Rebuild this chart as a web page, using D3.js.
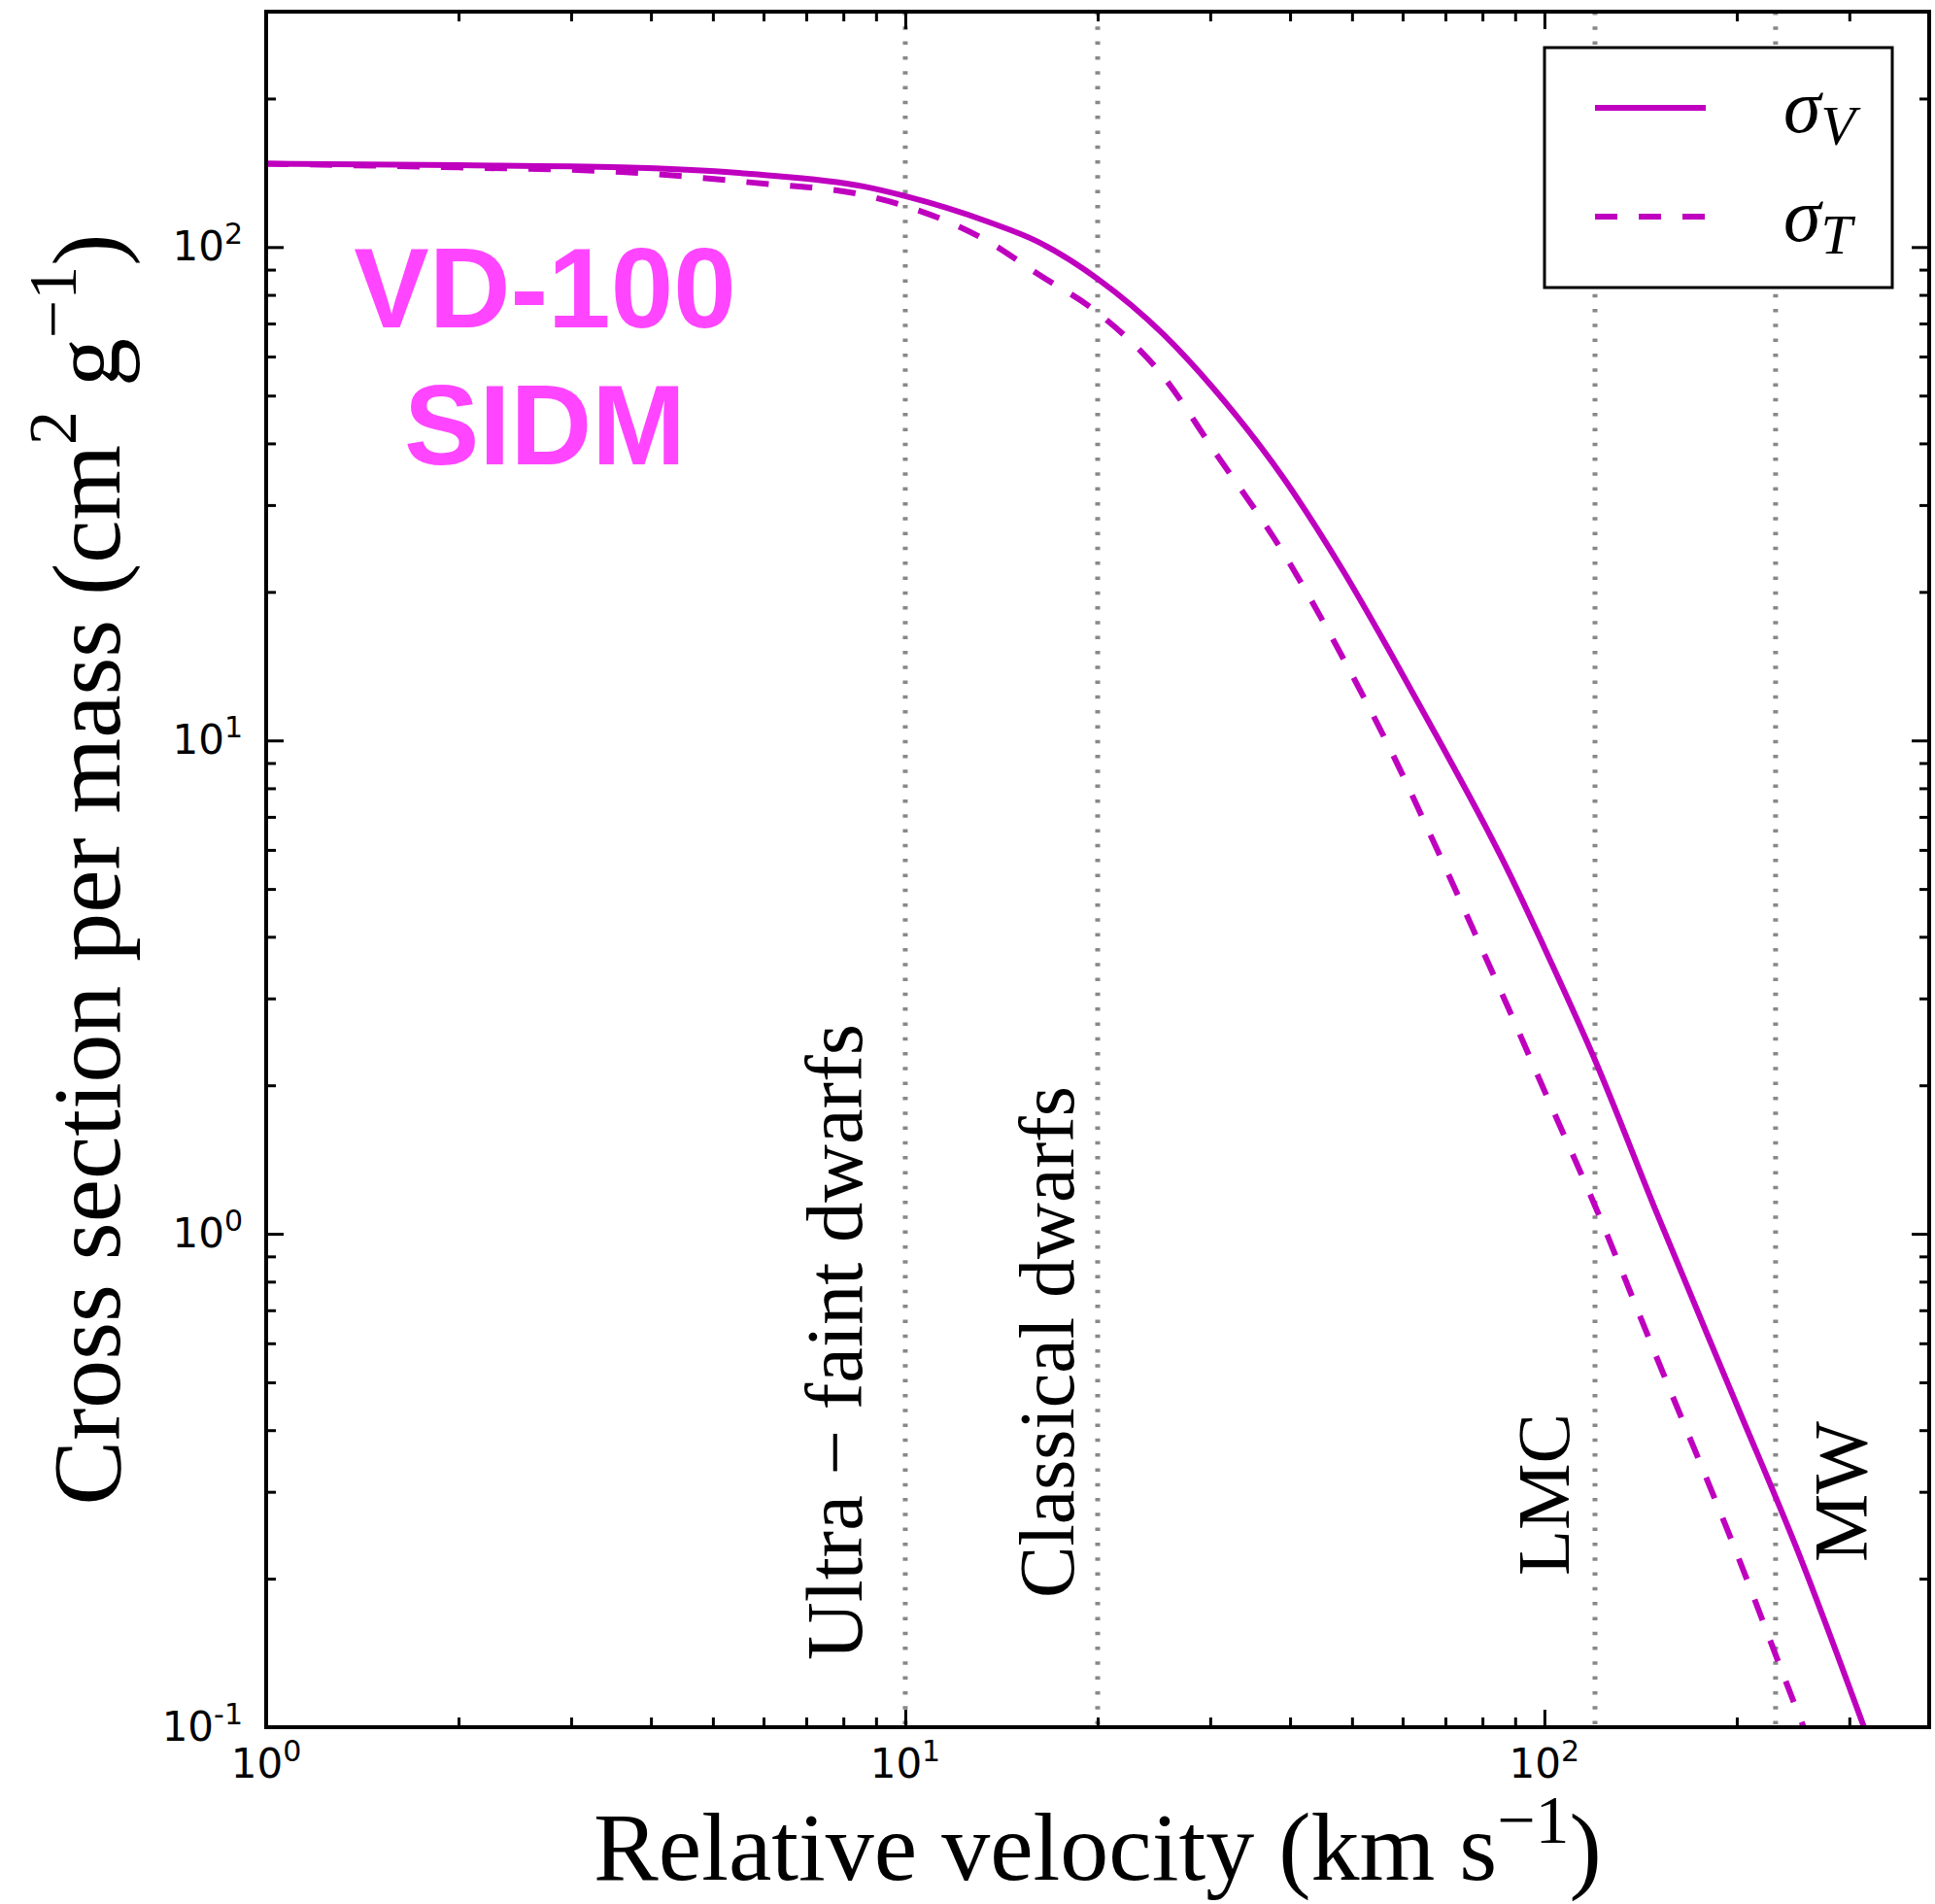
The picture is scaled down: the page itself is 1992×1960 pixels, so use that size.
<!DOCTYPE html>
<html>
<head>
<meta charset="utf-8">
<script src="https://cdn.jsdelivr.net/npm/d3@7"></script>
<style>
  body { margin: 0; background: #fff; }
  svg { display: block; }
</style>
</head>
<body>
<script>
// values
var velocity = [1, 2, 3.6, 5.8, 8.6, 10, 13.5, 16.1, 20, 25.3, 30.4, 39.2, 48.4, 57.6, 68.6, 80.8, 87.7, 100, 120, 150, 200, 250, 320];
var sigmaV = [147.5, 146.5, 145, 140.5, 132.7, 126.8, 112.4, 102.6, 86.2, 66.7, 51.6, 33.8, 22.1, 14.95, 9.94, 6.71, 5.45, 3.8, 2.25, 1.1, 0.45, 0.225, 0.096];
var sigmaT = [147.5, 145, 142, 135, 127.5, 121.1, 102.5, 88.3, 73.6, 54.8, 38.7, 23.8, 14.7, 9.5, 5.85, 3.65, 2.88, 1.95, 1.14, 0.56, 0.225, 0.106, 0.048];

var markerVel = [10, 20, 120, 230];
var markerNames = ['Ultra \u2212 faint dwarfs', 'Classical dwarfs', 'LMC', 'MW'];

var xMajor = [1, 10, 100];
var xMajorExp = ['0', '1', '2'];
var yMajor = [0.1, 1, 10, 100];
var yMajorExp = ['-1', '0', '1', '2'];

var W = 1992, H = 1960;
var pL = 274, pR = 1986, pT = 12, pB = 1778;
var mag = '#bf00bf';

var svg = d3.select('body').append('svg')
  .attr('width', W).attr('height', H);
svg.append('rect').attr('width', W).attr('height', H).attr('fill', '#fff');

var x = d3.scaleLog().domain([1, 400]).range([pL, pR]);
var y = d3.scaleLog().domain([0.1, 300]).range([pB, pT]);

svg.append('clipPath').attr('id', 'plot')
  .append('rect').attr('x', pL).attr('y', pT)
  .attr('width', pR - pL).attr('height', pB - pT);

// dotted markers
svg.append('g').selectAll('line')
  .data(markerVel).enter().append('line')
  .attr('x1', function(d) { return x(d); })
  .attr('x2', function(d) { return x(d); })
  .attr('y1', pT).attr('y2', pB)
  .attr('stroke', '#888')
  .attr('stroke-width', 5)
  .attr('stroke-dasharray', '3.5 11.8');

// curves
var line = d3.line()
  .x(function(d) { return x(d[0]); })
  .y(function(d) { return y(d[1]); })
  .curve(d3.curveMonotoneX);

var curves = svg.append('g').attr('clip-path', 'url(#plot)');
curves.append('path')
  .datum(d3.zip(velocity, sigmaT))
  .attr('d', line)
  .attr('fill', 'none')
  .attr('stroke', mag)
  .attr('stroke-width', 6)
  .attr('stroke-dasharray', '23 22');
curves.append('path')
  .datum(d3.zip(velocity, sigmaV))
  .attr('d', line)
  .attr('fill', 'none')
  .attr('stroke', mag)
  .attr('stroke-width', 6);

// ticks on all four sides, pointing in
var xAll = x.ticks();
var yAll = y.ticks();
function isMajor(d) { return Math.abs(Math.log10(d) - Math.round(Math.log10(d))) < 1e-9; }
var xMinor = xAll.filter(function(d) { return !isMajor(d); });
var yMinor = yAll.filter(function(d) { return !isMajor(d); });

function tickAxis(axis, vals, len, tx, ty) {
  var g = svg.append('g')
    .attr('transform', 'translate(' + tx + ',' + ty + ')')
    .call(axis.tickValues(vals).tickSize(-len).tickFormat(''));
  g.select('.domain').remove();
  g.selectAll('line').attr('stroke', '#000').attr('stroke-width', 3);
}
tickAxis(d3.axisBottom(x), xMajor, 18, 0, pB);
tickAxis(d3.axisBottom(x), xMinor, 10, 0, pB);
tickAxis(d3.axisTop(x), xMajor, 18, 0, pT);
tickAxis(d3.axisTop(x), xMinor, 10, 0, pT);
tickAxis(d3.axisLeft(y), yMajor, 18, pL, 0);
tickAxis(d3.axisLeft(y), yMinor, 10, pL, 0);
tickAxis(d3.axisRight(y), yMajor, 18, pR, 0);
tickAxis(d3.axisRight(y), yMinor, 10, pR, 0);

// frame
svg.append('rect')
  .attr('x', pL).attr('y', pT)
  .attr('width', pR - pL).attr('height', pB - pT)
  .attr('fill', 'none').attr('stroke', '#000').attr('stroke-width', 4);

// tick labels
var tickFont = 'DejaVu Sans, sans-serif';
function powLabel(g, exp) {
  g.append('tspan').text('10');
  g.append('tspan').attr('font-size', 30).attr('dy', -17).text(exp);
}
xMajor.forEach(function(v, i) {
  var t = svg.append('text')
    .attr('x', x(v)).attr('y', 1830)
    .attr('text-anchor', 'middle')
    .attr('font-family', tickFont).attr('font-size', 42);
  powLabel(t, xMajorExp[i]);
});
yMajor.forEach(function(v, i) {
  var t = svg.append('text')
    .attr('x', 250).attr('y', y(v) + 14)
    .attr('text-anchor', 'end')
    .attr('font-family', tickFont).attr('font-size', 42);
  powLabel(t, yMajorExp[i]);
});

// fit a text element to a given length by changing its font size
function fit(t, len) {
  var fs = parseFloat(t.attr('font-size'));
  t.attr('font-size', fs * len / t.node().getComputedTextLength());
}

var serif = 'Liberation Serif, Times New Roman, serif';

// axis titles
var xl = svg.append('text')
  .attr('x', (pL + pR) / 2).attr('y', 1935)
  .attr('text-anchor', 'middle')
  .attr('font-family', serif).attr('font-size', 80);
xl.append('tspan').text('Relative velocity (km s');
xl.append('tspan').attr('font-size', '70%').attr('dy', '-0.55em').text('\u22121');
xl.append('tspan').attr('dy', '0.39em').text(')');
fit(xl, 1038);

var yl = svg.append('text')
  .attr('transform', 'translate(123,' + (pT + pB) / 2 + ') rotate(-90)')
  .attr('text-anchor', 'middle')
  .attr('font-family', serif).attr('font-size', 80);
yl.append('tspan').text('Cross section per mass (cm');
yl.append('tspan').attr('font-size', '70%').attr('dy', '-0.65em').text('2');
yl.append('tspan').attr('dy', '0.455em').text(' g');
yl.append('tspan').attr('font-size', '70%').attr('dy', '-0.65em').text('\u22121');
yl.append('tspan').attr('dy', '0.455em').text(')');
fit(yl, 1309);

// marker names, written upward next to the dotted lines
var nameBase = [887, 1105, 1615, 1921];
var nameStart = [1709, 1645, 1622, 1608];
var nameLen = [655, 527, 167, 145];
markerNames.forEach(function(s, i) {
  var t = svg.append('text')
    .attr('transform', 'translate(' + nameBase[i] + ',' + nameStart[i] + ') rotate(-90)')
    .attr('font-family', serif).attr('font-size', 80)
    .text(s);
  fit(t, nameLen[i]);
});

// model name
var tag = svg.append('text')
  .attr('text-anchor', 'middle')
  .attr('font-family', 'Liberation Sans, Arial, sans-serif')
  .attr('font-weight', 'bold').attr('font-size', 116)
  .attr('fill', '#ff45ff');
tag.append('tspan').attr('x', 561).attr('y', 337).text('VD-100');
tag.append('tspan').attr('x', 561).attr('y', 478).text('SIDM');

// legend
var leg = svg.append('g');
leg.append('rect')
  .attr('x', 1590).attr('y', 49).attr('width', 358).attr('height', 247)
  .attr('fill', '#fff').attr('stroke', '#000').attr('stroke-width', 3);
var legItems = [
  { sub: 'V', dash: null, y: 111 },
  { sub: 'T', dash: '23 22', y: 223 }
];
legItems.forEach(function(d) {
  leg.append('line')
    .attr('x1', 1642).attr('x2', 1756)
    .attr('y1', d.y).attr('y2', d.y)
    .attr('stroke', mag).attr('stroke-width', 6)
    .attr('stroke-dasharray', d.dash);
  var t = leg.append('text')
    .attr('x', 1836).attr('y', d.y + 25)
    .attr('font-family', serif).attr('font-style', 'italic')
    .attr('font-size', 78);
  t.append('tspan').text('\u03c3');
  t.append('tspan').attr('font-size', 58).attr('dy', 13).text(d.sub);
});
</script>
</body>
</html>
